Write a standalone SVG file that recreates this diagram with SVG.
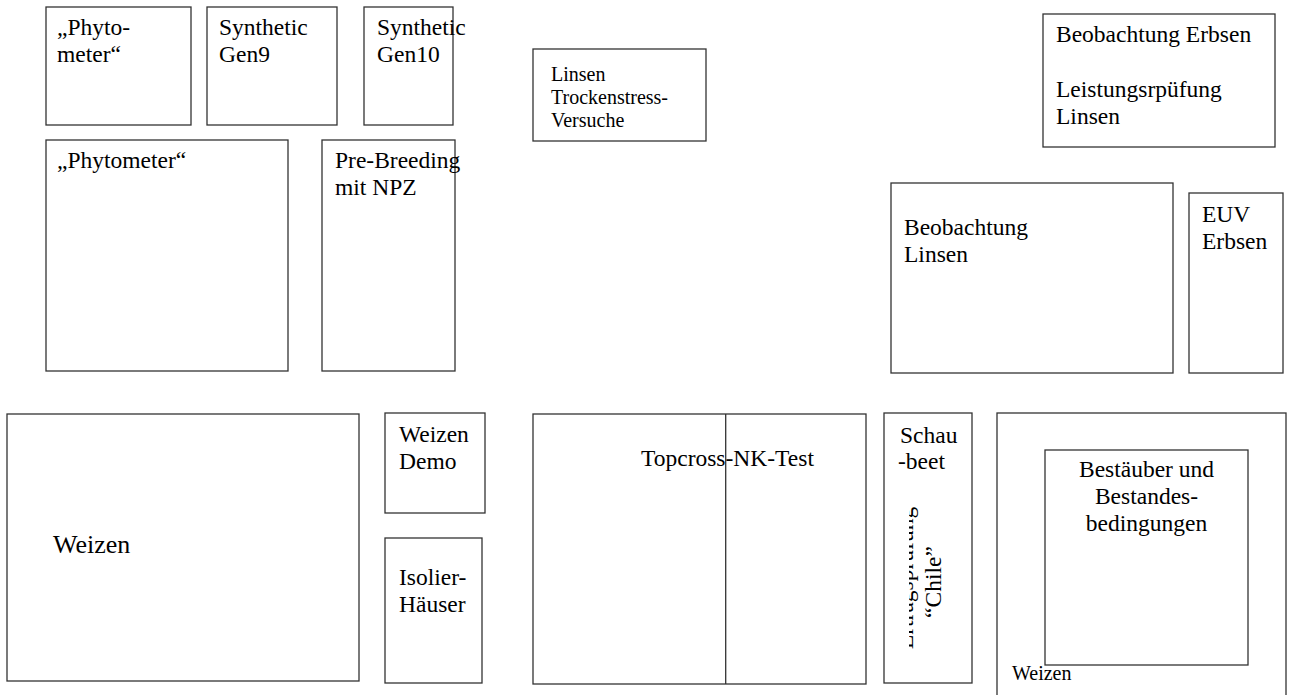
<svg xmlns="http://www.w3.org/2000/svg" width="1294" height="695" viewBox="0 0 1294 695">
<style>
.b{fill:#fff;stroke:#333;stroke-width:1.3}
.t{font-family:"Liberation Serif","Times New Roman",serif;font-size:23.5px;fill:#000}
.s{font-size:20px}
.l{font-size:26px}
</style>
<defs>
<clipPath id="cl"><rect x="909" y="414" width="62" height="268"/></clipPath>
</defs>
<rect width="1294" height="695" fill="#fff"/>
<g id="phyto-small"><rect class="b" x="46" y="7" width="145" height="118"/><text class="t" x="57" y="35">„Phyto-</text><text class="t" x="57" y="62">meter“</text></g>
<g id="gen9"><rect class="b" x="207" y="7" width="130" height="118"/><text class="t" x="219" y="35">Synthetic</text><text class="t" x="219" y="62">Gen9</text></g>
<g id="gen10"><rect class="b" x="364" y="7" width="89" height="118"/><text class="t" x="377" y="35">Synthetic</text><text class="t" x="377" y="62">Gen10</text></g>
<g id="linsen-trocken"><rect class="b" x="533" y="49" width="173" height="92"/><text class="t s" x="551" y="81">Linsen</text><text class="t s" x="551" y="104">Trockenstress-</text><text class="t s" x="551" y="127">Versuche</text></g>
<g id="erbsen"><rect class="b" x="1043" y="14" width="232" height="133"/><text class="t" x="1056" y="42">Beobachtung Erbsen</text><text class="t" x="1056" y="97">Leistungsrpüfung</text><text class="t" x="1056" y="124">Linsen</text></g>
<g id="phyto-big"><rect class="b" x="46" y="140" width="242" height="231"/><text class="t" x="57" y="168">„Phytometer“</text></g>
<g id="prebreeding"><rect class="b" x="322" y="140" width="133" height="231"/><text class="t" x="335" y="168">Pre-Breeding</text><text class="t" x="335" y="195">mit NPZ</text></g>
<g id="beob-linsen"><rect class="b" x="891" y="183" width="282" height="190"/><text class="t" x="904" y="235">Beobachtung</text><text class="t" x="904" y="262">Linsen</text></g>
<g id="euv"><rect class="b" x="1189" y="193" width="94" height="180"/><text class="t" x="1202" y="222">EUV</text><text class="t" x="1202" y="249">Erbsen</text></g>
<g id="weizen-big"><rect class="b" x="7" y="414" width="352" height="267"/><text class="t l" x="53" y="553">Weizen</text></g>
<g id="weizen-demo"><rect class="b" x="385" y="413" width="100" height="100"/><text class="t" x="399" y="442">Weizen</text><text class="t" x="399" y="469">Demo</text></g>
<g id="isolier"><rect class="b" x="385" y="538" width="97" height="145"/><text class="t" x="399" y="585">Isolier-</text><text class="t" x="399" y="612">Häuser</text></g>
<g id="topcross"><rect class="b" x="533" y="414" width="333" height="270"/><text class="t" x="641" y="466">Topcross-NK-Test</text><line x1="725.7" y1="414" x2="725.7" y2="684" stroke="#333" stroke-width="1.3"/></g>
<g id="schaubeet"><rect class="b" x="884" y="413" width="88" height="270"/><text class="t" x="900" y="443">Schau</text><text class="t" x="898" y="469">-beet</text>
<g clip-path="url(#cl)"><text class="t" transform="translate(913,578) rotate(-90)" text-anchor="middle">Ertragsprüfung</text></g>
<text class="t" transform="translate(941,582) rotate(-90)" text-anchor="middle">“Chile”</text></g>
<g id="weizen-right"><rect class="b" x="997" y="413" width="289" height="300"/><rect class="b" x="1045" y="450" width="203" height="215"/><text class="t" x="1146.5" y="477" text-anchor="middle">Bestäuber und</text><text class="t" x="1146.5" y="504" text-anchor="middle">Bestandes-</text><text class="t" x="1146.5" y="531" text-anchor="middle">bedingungen</text><text class="t s" x="1012" y="680">Weizen</text></g>
<g id="connectors"></g>
</svg>
